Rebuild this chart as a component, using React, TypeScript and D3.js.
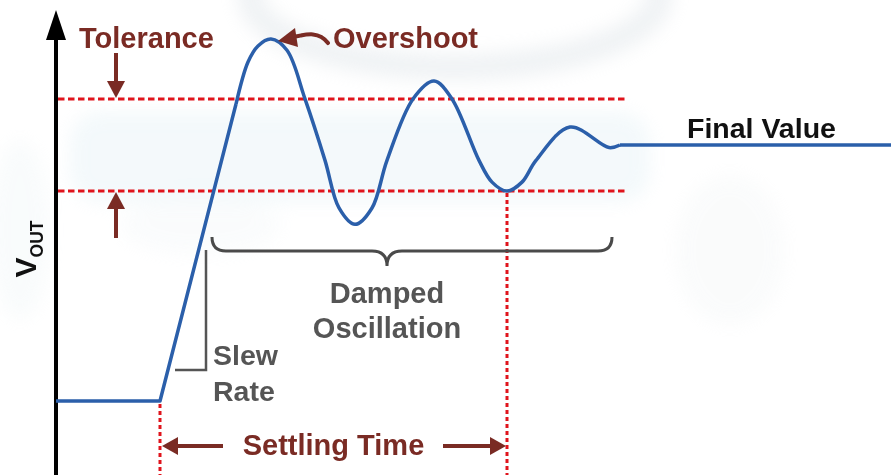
import React from "react";
import * as d3 from "d3";

// ---- data (time in arbitrary units, voltage normalised to final value) ----
const rampTime = [-1.04, 0, 0.76];
const rampVolt = [0, 0, 1.16];
const oscTime = [0.76, 0.88, 0.98, 1.11, 1.27, 1.45, 1.65, 1.79, 1.95, 2.12, 2.27, 2.53, 2.74, 2.92, 3.19, 3.32, 3.47, 3.62, 3.76, 4.1, 4.49, 4.6];
const oscVolt = [1.16, 1.324, 1.387, 1.414, 1.37, 1.18, 0.94, 0.754, 0.69, 0.754, 0.94, 1.18, 1.25, 1.18, 0.94, 0.855, 0.82, 0.855, 0.94, 1.07, 0.99, 1.0];
const finalTime = [4.6, 7.31];
const finalVolt = [1.0, 1.0];
const toleranceBand = [0.82, 1.18];
const stepTime = 0;
const settleTime = 3.47;
const oscSpan = [0.52, 4.52];
const braceTipTime = 2.27;
const labels = {
  tolerance: "Tolerance",
  overshoot: "Overshoot",
  finalValue: "Final Value",
  damped: ["Damped", "Oscillation"],
  slew: ["Slew", "Rate"],
  settling: "Settling Time",
  vout: ["V", "OUT"],
};

const W = 891;
const H = 475;
const BLUE = "#2b5faa";
const RED = "#e0141c";
const DARK_RED = "#7a2b24";
const GRAY = "#555555";
const FONT = "'Liberation Sans', Arial, sans-serif";

export default function App() {
  const x = d3.scaleLinear().domain([-1.04, 7.31]).range([56, 891]);
  const y = d3.scaleLinear().domain([0, 1]).range([401, 145]);

  const zip = (ts: number[], vs: number[]): [number, number][] => ts.map((t, i) => [t, vs[i]]);
  const lineLin = d3.line<[number, number]>().x((d) => x(d[0])).y((d) => y(d[1]));
  const lineSmooth = d3
    .line<[number, number]>()
    .x((d) => x(d[0]))
    .y((d) => y(d[1]))
    .curve(d3.curveCatmullRom.alpha(0.5));

  const tolX0 = x(-1.02);
  const tolX1 = x(4.65);
  const yHi = y(toleranceBand[1]);
  const yLo = y(toleranceBand[0]);
  const arrowX = x(-0.44);

  const xs = x(stepTime);
  const xe = x(settleTime);
  const settleY = 446;

  // brace
  const bx0 = x(oscSpan[0]);
  const bx1 = x(oscSpan[1]);
  const bmid = x(braceTipTime);
  const by = 251;
  const r = 14;
  const bracePath = `M${bx0},${by - r} Q${bx0},${by} ${bx0 + r},${by} L${bmid - 15},${by} Q${bmid},${by} ${bmid},${by + 15} Q${bmid},${by} ${bmid + 15},${by} L${bx1 - r},${by} Q${bx1},${by} ${bx1},${by - r}`;

  // slew bracket
  const sx = 206;

  const peakX = x(1.11);
  const peakY = y(1.414);

  const arrowHead = (tx: number, ty: number, dir: "up" | "down" | "left" | "right", len = 16, half = 9) => {
    let pts: [number, number][];
    if (dir === "down") pts = [[tx, ty], [tx - half, ty - len], [tx + half, ty - len]];
    else if (dir === "up") pts = [[tx, ty], [tx - half, ty + len], [tx + half, ty + len]];
    else if (dir === "left") pts = [[tx, ty], [tx + len, ty - half], [tx + len, ty + half]];
    else pts = [[tx, ty], [tx - len, ty - half], [tx - len, ty + half]];
    return <polygon points={pts.map((p) => p.join(",")).join(" ")} fill={DARK_RED} />;
  };

  return (
    <svg
      width={W}
      height={H}
      viewBox={`0 0 ${W} ${H}`}
      style={{ position: "absolute", left: 0, top: 0, background: "#ffffff" }}
    >
      <defs>
        <filter id="blur" x="-20%" y="-20%" width="140%" height="140%">
          <feGaussianBlur stdDeviation="9" />
        </filter>
      </defs>
      {/* faint watermark background */}
      <g filter="url(#blur)" opacity={0.35}>
        <ellipse cx={455} cy={-5} rx={205} ry={72} fill="none" stroke="#d3dbe1" strokeWidth={26} />
        <rect x={70} y={112} width={580} height={90} rx={30} fill="#d6eaf1" opacity={0.8} />
        <ellipse cx={730} cy={250} rx={55} ry={75} fill="#e6ebee" opacity={0.5} />
        <ellipse cx={20} cy={230} rx={30} ry={90} fill="#e3eef2" opacity={0.6} />
        <ellipse cx={200} cy={225} rx={80} ry={30} fill="#e6eef2" opacity={0.5} />
      </g>

      {/* tolerance band */}
      {[yHi, yLo].map((yy, i) => (
        <line key={i} x1={tolX0} x2={tolX1} y1={yy} y2={yy} stroke={RED} strokeWidth={3} strokeDasharray="6.5 3.5" />
      ))}

      {/* settling verticals */}
      <line x1={xs} x2={xs} y1={y(0) + 3} y2={H} stroke={RED} strokeWidth={3} strokeDasharray="4 3" />
      <line x1={xe} x2={xe} y1={y(toleranceBand[0]) + 2} y2={H} stroke={RED} strokeWidth={3} strokeDasharray="4 3" />

      {/* y axis */}
      <line x1={56} x2={56} y1={32} y2={H} stroke="#000" strokeWidth={4} />
      <polygon points={`56,10 46,40 66,40`} fill="#000" />

      {/* response curve */}
      <path d={lineLin(zip(rampTime, rampVolt)) ?? ""} fill="none" stroke={BLUE} strokeWidth={3.5} strokeLinejoin="round" />
      <path d={lineSmooth(zip(oscTime, oscVolt)) ?? ""} fill="none" stroke={BLUE} strokeWidth={3.5} strokeLinejoin="round" />
      <path d={lineLin(zip(finalTime, finalVolt)) ?? ""} fill="none" stroke={BLUE} strokeWidth={3.5} />

      {/* tolerance arrows */}
      <line x1={arrowX} x2={arrowX} y1={53} y2={yHi - 12} stroke={DARK_RED} strokeWidth={4} />
      {arrowHead(arrowX, yHi - 1, "down", 17, 9)}
      <line x1={arrowX} x2={arrowX} y1={238} y2={yLo + 12} stroke={DARK_RED} strokeWidth={4} />
      {arrowHead(arrowX, yLo + 1, "up", 17, 9)}
      <text x={79} y={48} fontFamily={FONT} fontWeight="bold" fontSize={29} fill={DARK_RED}>
        {labels.tolerance}
      </text>

      {/* overshoot */}
      <path
        d={`M${peakX + 57},${peakY + 4} C${peakX + 48},${peakY - 8} ${peakX + 36},${peakY - 5} ${peakX + 22},${peakY - 2}`}
        fill="none"
        stroke={DARK_RED}
        strokeWidth={4}
        strokeLinecap="round"
      />
      <polygon
        points={`${peakX + 7},${peakY + 2} ${peakX + 24},${peakY - 11} ${peakX + 27},${peakY + 8}`}
        fill={DARK_RED}
      />
      <text x={333} y={48} fontFamily={FONT} fontWeight="bold" fontSize={29} fill={DARK_RED}>
        {labels.overshoot}
      </text>

      {/* final value */}
      <text x={687} y={138} fontFamily={FONT} fontWeight="bold" fontSize={28.5} fill="#111">
        {labels.finalValue}
      </text>

      {/* damped oscillation brace */}
      <path d={bracePath} fill="none" stroke="#4a4a4a" strokeWidth={3} />
      <text x={bmid} y={303} textAnchor="middle" fontFamily={FONT} fontWeight="bold" fontSize={29} fill={GRAY}>
        {labels.damped[0]}
      </text>
      <text x={bmid} y={338} textAnchor="middle" fontFamily={FONT} fontWeight="bold" fontSize={29} fill={GRAY}>
        {labels.damped[1]}
      </text>

      {/* slew rate */}
      <path d={`M${sx},250 L${sx},370 L175,370`} fill="none" stroke={GRAY} strokeWidth={2.5} />
      <text x={213} y={365} fontFamily={FONT} fontWeight="bold" fontSize={28.5} fill={GRAY}>
        {labels.slew[0]}
      </text>
      <text x={213} y={401} fontFamily={FONT} fontWeight="bold" fontSize={28.5} fill={GRAY}>
        {labels.slew[1]}
      </text>

      {/* settling time */}
      <line x1={xs + 14} x2={223} y1={settleY} y2={settleY} stroke={DARK_RED} strokeWidth={4} />
      {arrowHead(xs + 2, settleY, "left", 16, 9)}
      <line x1={443} x2={xe - 14} y1={settleY} y2={settleY} stroke={DARK_RED} strokeWidth={4} />
      {arrowHead(xe - 1, settleY, "right", 16, 9)}
      <text x={(xs + xe) / 2} y={455} textAnchor="middle" fontFamily={FONT} fontWeight="bold" fontSize={29} fill={DARK_RED}>
        {labels.settling}
      </text>

      {/* y label */}
      <text transform="translate(36,249) rotate(-90)" textAnchor="middle" fontFamily={FONT} fontWeight="bold" fill="#111">
        <tspan fontSize={30}>{labels.vout[0]}</tspan>
        <tspan fontSize={17.5} dy={7}>
          {labels.vout[1]}
        </tspan>
      </text>
    </svg>
  );
}
